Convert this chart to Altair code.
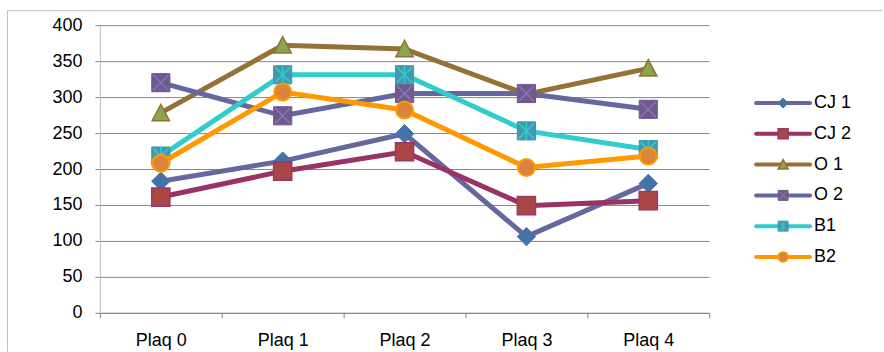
import altair as alt
import pandas as pd

# ---- data ----
categories = ["Plaq 0", "Plaq 1", "Plaq 2", "Plaq 3", "Plaq 4"]
series_names = ["CJ 1", "CJ 2", "O 1", "O 2", "B1", "B2"]
cj1 = [183, 211, 249, 106, 180]
cj2 = [161, 197, 224, 149, 156]
o1 = [278, 372, 367, 304, 340]
o2 = [320, 274, 305, 305, 283]
b1 = [218, 331, 331, 253, 227]
b2 = [208, 307, 282, 202, 218]
y_ticks = [0, 50, 100, 150, 200, 250, 300, 350, 400]

series_values = dict(zip(series_names, [cj1, cj2, o1, o2, b1, b2]))

# ---- styles ----
FONT = "Liberation Sans"
FS = 18
GRID = "#878787"
TRI = "M0,-1L1,0.9L-1,0.9Z"
XMARK = "M-0.85,-0.85L0.85,0.85M0.85,-0.85L-0.85,0.85"
STAR = "M-0.85,-0.85L0.85,0.85M0.85,-0.85L-0.85,0.85M0,-1L0,1"

styles = {
    "CJ 1": dict(line="#67679F", shape="diamond", fill="#4572A7", stroke="#4572A7", sw=1, size=340, overlay=None),
    "CJ 2": dict(line="#993366", shape="square", fill="#AA4643", stroke="#9A3868", sw=1.5, size=330, overlay=None),
    "O 1": dict(line="#937137", shape=TRI, fill="#89A54E", stroke="#937137", sw=1.5, size=300, overlay=None),
    "O 2": dict(line="#67679F", shape="square", fill="#71588F", stroke="#71588F", sw=1, size=330, overlay=("#8C7AB8", 1.2)),
    "B1": dict(line="#33CCCC", shape="square", fill="#4198AF", stroke="#4198AF", sw=1, size=330, overlay=("#33CCCC", 1.5)),
    "B2": dict(line="#FF9900", shape="circle", fill="#DB843D", stroke="#FF9900", sw=2, size=290, overlay=None),
}

W, H = 610, 288

x_enc = alt.X(
    "cat:N",
    sort=categories,
    scale=alt.Scale(type="band", domain=categories, paddingInner=0, paddingOuter=0),
    axis=alt.Axis(
        title=None, labelAngle=0, tickBand="extent", grid=False,
        domainColor=GRID, tickColor=GRID, tickSize=5, labelPadding=14,
        labelFont=FONT, labelFontSize=FS, labelColor="#000000",
    ),
)
y_enc = alt.Y(
    "val:Q",
    scale=alt.Scale(domain=[0, 400], nice=False),
    axis=alt.Axis(
        title=None, values=y_ticks, grid=True, gridColor=GRID, gridWidth=1,
        domainColor="#BEBEBE", tickColor=GRID, tickSize=5, labelPadding=13,
        labelFont=FONT, labelFontSize=FS, labelColor="#000000",
    ),
)

layers = []
for name in series_names:
    st = styles[name]
    df = pd.DataFrame({"cat": categories, "val": series_values[name]})
    base = alt.Chart(df).encode(x=x_enc, y=y_enc)
    layers.append(base.mark_line(color=st["line"], strokeWidth=5))
    layers.append(base.mark_point(shape=st["shape"], filled=True, fill=st["fill"], stroke=st["stroke"],
                                  strokeWidth=st["sw"], size=st["size"], opacity=1))
    if st["overlay"]:
        col, w = st["overlay"]
        path = XMARK if name == "O 2" else STAR
        layers.append(base.mark_point(shape=path, filled=False, stroke=col, strokeWidth=w,
                                      size=330, opacity=1))

# chart frame (top and left edges)
frame_src = pd.DataFrame({"k": [0]})
frame_top = alt.Chart(frame_src).mark_rule(color="#BFBFBF", strokeWidth=1).encode(
    x=alt.value(-92.5), x2=alt.value(784), y=alt.value(-14.5))
frame_left = alt.Chart(frame_src).mark_rule(color="#BFBFBF", strokeWidth=1).encode(
    x=alt.value(-92.5), y=alt.value(-14.5), y2=alt.value(327))

main = alt.layer(frame_top, frame_left, *layers).properties(width=W, height=H)

# ---- legend panel ----
LW = 127
leg_y = alt.Y("series:N", sort=series_names,
              scale=alt.Scale(type="point", domain=series_names, range=[78, 232], padding=0),
              axis=None)
xs = alt.Scale(domain=[0, LW], range=[0, LW])

leg_layers = []
for name in series_names:
    st = styles[name]
    d = pd.DataFrame({"series": [name], "a": [0], "b": [54], "m": [27], "t": [58]})
    b = alt.Chart(d)
    leg_layers.append(b.mark_rule(color=st["line"], strokeWidth=4, strokeCap="round").encode(
        x=alt.X("a:Q", scale=xs, axis=None), x2="b:Q", y=leg_y))
    leg_layers.append(b.mark_point(shape=st["shape"], filled=True, fill=st["fill"], stroke=st["stroke"],
                                   strokeWidth=min(st["sw"], 1.5), size=100, opacity=1).encode(
        x=alt.X("m:Q", scale=xs, axis=None), y=leg_y))
    if st["overlay"]:
        col, w = st["overlay"]
        path = XMARK if name == "O 2" else STAR
        leg_layers.append(b.mark_point(shape=path, filled=False, stroke=col, strokeWidth=1,
                                       size=100, opacity=1).encode(
            x=alt.X("m:Q", scale=xs, axis=None), y=leg_y))
    leg_layers.append(b.mark_text(align="left", baseline="middle", font=FONT, fontSize=FS,
                                  color="#000000").encode(
        x=alt.X("t:Q", scale=xs, axis=None), y=leg_y, text="series:N"))

legend = alt.layer(*leg_layers).properties(width=LW, height=H)

chart = alt.hconcat(main, legend, spacing=47, bounds="flush").properties(
    padding={"left": 7, "top": 10, "right": 0, "bottom": 0},
    background="white",
).configure_view(stroke=None)

chart.save("out.html", embed_options={"renderer": "svg", "actions": False})
